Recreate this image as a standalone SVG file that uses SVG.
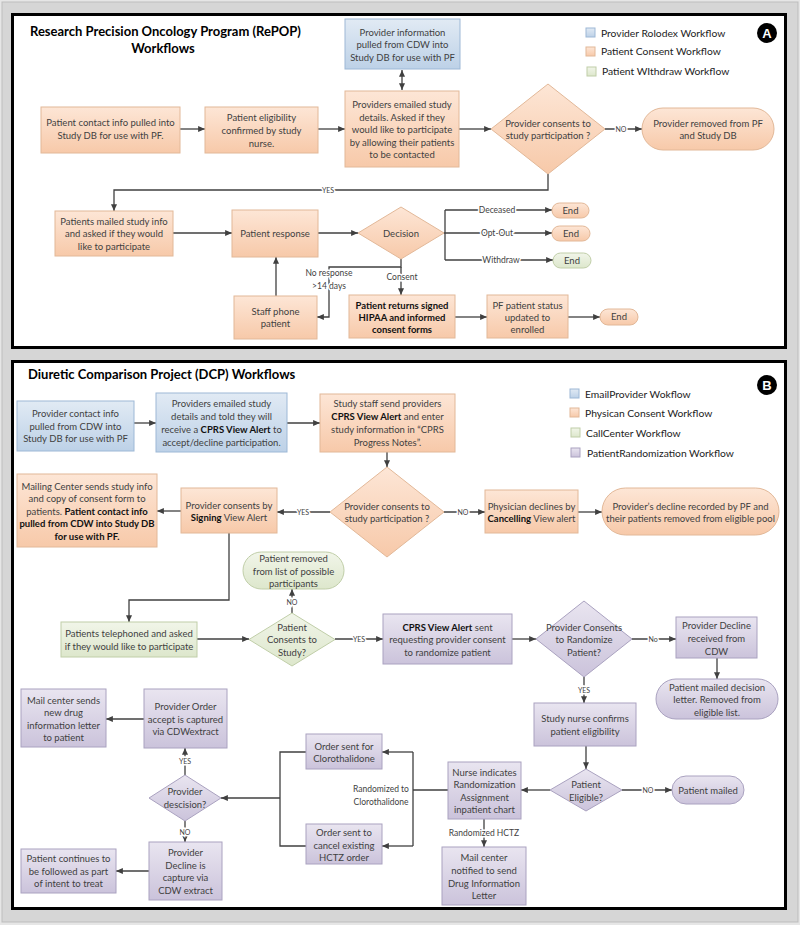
<svg xmlns="http://www.w3.org/2000/svg" width="800" height="925" viewBox="0 0 800 925">
<defs>
<linearGradient id="gPe" x1="0" y1="0" x2="0" y2="1"><stop offset="0" stop-color="#fde6d6"/><stop offset="1" stop-color="#f7c9a9"/></linearGradient>
<linearGradient id="gBl" x1="0" y1="0" x2="0" y2="1"><stop offset="0" stop-color="#e1eaf4"/><stop offset="1" stop-color="#bdd1e7"/></linearGradient>
<linearGradient id="gGr" x1="0" y1="0" x2="0" y2="1"><stop offset="0" stop-color="#f1f5e9"/><stop offset="1" stop-color="#dde7cc"/></linearGradient>
<linearGradient id="gPu" x1="0" y1="0" x2="0" y2="1"><stop offset="0" stop-color="#e9e5f0"/><stop offset="1" stop-color="#cbc3db"/></linearGradient>
<marker id="ar" viewBox="0 0 8 7" markerWidth="7" markerHeight="6" refX="8" refY="3.5" orient="auto" markerUnits="userSpaceOnUse"><path d="M0,0 L8,3.5 L0,7 z" fill="#404040"/></marker>
<marker id="as" viewBox="0 0 8 7" markerWidth="7" markerHeight="6" refX="0" refY="3.5" orient="auto" markerUnits="userSpaceOnUse"><path d="M8,0 L0,3.5 L8,7 z" fill="#404040"/></marker>
<style>
.pe{fill:url(#gPe);stroke:#e2b898;stroke-width:1}
.bl{fill:url(#gBl);stroke:#9db8d6;stroke-width:1}
.gr{fill:url(#gGr);stroke:#c0cea8;stroke-width:1}
.pu{fill:url(#gPu);stroke:#aaa2c0;stroke-width:1}
.t{font-family:Lato,"Liberation Sans",sans-serif;font-size:9.5px;fill:#3f3f3f;text-anchor:middle}
.k{font-weight:bold;fill:#111}
.lb{font-family:Lato,"Liberation Sans",sans-serif;font-size:7px;fill:#3f3f3f;text-anchor:middle;paint-order:stroke;stroke:#fff;stroke-width:3px}
.lm{font-size:8.5px}
.lg{font-family:Lato,"Liberation Sans",sans-serif;font-size:10.3px;fill:#222}
.ti{font-family:Lato,"Liberation Sans",sans-serif;font-size:13px;font-weight:bold;fill:#000}
.c{fill:none;stroke:#404040;stroke-width:1.3}
.a{marker-end:url(#ar)}
</style>
</defs>
<rect x="0" y="0" width="800" height="925" fill="#e6e6e6"/>
<rect x="2" y="2" width="796" height="920" fill="#d6d6d6" stroke="#bdbdbd" stroke-width="1"/>
<rect x="12.5" y="14.5" width="773" height="333" fill="#fff" stroke="#000" stroke-width="3"/>
<rect x="12.5" y="361.5" width="773" height="547" fill="#fff" stroke="#000" stroke-width="3"/>

<g id="titleA"><text class="ti" x="30" y="36">Research Precision Oncology Program (RePOP)</text><text class="ti" x="163" y="52.5" text-anchor="middle">Workflows</text></g>
<g id="badgeA"><circle cx="767" cy="33" r="10" fill="#000"/><text x="767" y="37.5" font-family="Liberation Sans,sans-serif" font-size="13" font-weight="bold" fill="#fff" text-anchor="middle">A</text></g>
<g id="legendA">
<rect x="586" y="28" width="9" height="9" class="bl"/><text class="lg" x="601" y="36.5">Provider Rolodex Workflow</text>
<rect x="586" y="47" width="9" height="9" class="pe"/><text class="lg" x="601" y="54.5">Patient Consent Workflow</text>
<rect x="587" y="67" width="9" height="9" class="gr"/><text class="lg" x="602" y="75">Patient WIthdraw Workflow</text>
</g>

<g id="connectorsA">
<path class="c a" d="M180,129 H205"/>
<path class="c a" d="M318,129 H345"/>
<path class="c a" d="M459,129 H491"/>
<path class="c" d="M402,70 V90" marker-start="url(#as)" marker-end="url(#ar)"/>
<path class="c a" d="M605,129 H642"/>
<text class="lb" x="621" y="131.5">NO</text>
<path class="c a" d="M548,174 V190 H114 V211"/>
<text class="lb" x="328" y="192.5">YES</text>
<path class="c a" d="M173,233 H232"/>
<path class="c a" d="M318,233 H358"/>
<path class="c" d="M445,210 V260"/>
<path class="c a" d="M445,210 H552"/>
<path class="c a" d="M444,233 H552"/>
<path class="c a" d="M445,260 H553"/>
<text class="lb lm" x="497" y="213">Deceased</text>
<text class="lb lm" x="497" y="236" fill="#111">Opt-Out</text>
<text class="lb lm" x="501" y="263">Withdraw</text>
<path class="c a" d="M401,259 V267 H329 V317 H317"/>
<text class="lb lm" x="329" y="276">No response</text>
<text class="lb lm" x="329" y="289">&gt;14 days</text>
<path class="c a" d="M401,267 V295"/>
<text class="lb lm" x="402" y="280">Consent</text>
<path class="c a" d="M276,296 V257"/>
<path class="c a" d="M455,317 H487"/>
<path class="c a" d="M568,317 H600"/>
</g>

<g id="a_contact"><rect class="pe" x="41" y="107" width="139" height="46"/><text class="t"><tspan x="110.5" y="126">Patient contact info pulled into</tspan><tspan x="110.5" y="139">Study DB for use with PF.</tspan></text></g>
<g id="a_elig"><rect class="pe" x="205" y="107" width="113" height="46"/><text class="t"><tspan x="261.5" y="120.5">Patient eligibility</tspan><tspan x="261.5" y="133.5">confirmed by study</tspan><tspan x="261.5" y="146.5">nurse.</tspan></text></g>
<g id="a_emailed"><rect class="pe" x="345" y="91" width="114" height="76"/><text class="t"><tspan x="402" y="107.5">Providers emailed study</tspan><tspan x="402" y="120.5">details.  Asked if they</tspan><tspan x="402" y="133">would like to participate</tspan><tspan x="402" y="145.5">by allowing their patients</tspan><tspan x="402" y="157.5">to be contacted</tspan></text></g>
<g id="a_provinfo"><rect class="bl" x="345" y="19" width="115" height="50"/><text class="t"><tspan x="402.5" y="35.5">Provider information</tspan><tspan x="402.5" y="47.5">pulled from CDW into</tspan><tspan x="402.5" y="60.5">Study DB for use with PF</tspan></text></g>
<g id="a_provconsent"><polygon class="pe" points="548,84 605,129 548,174 491,129"/><text class="t"><tspan x="548" y="126.5">Provider consents to</tspan><tspan x="548" y="138.5">study participation ?</tspan></text></g>
<g id="a_removed"><rect class="pe" x="642" y="108" width="132" height="42" rx="21"/><text class="t"><tspan x="708" y="126.5">Provider removed from PF</tspan><tspan x="708" y="138.5">and Study DB</tspan></text></g>
<g id="a_mailed"><rect class="pe" x="55" y="211" width="118" height="45"/><text class="t"><tspan x="114" y="224.5">Patients mailed study info</tspan><tspan x="114" y="236.5">and asked if they would</tspan><tspan x="114" y="249.5">like to participate</tspan></text></g>
<g id="a_response"><rect class="pe" x="232" y="210" width="86" height="47"/><text class="t" x="275" y="236.5">Patient response</text></g>
<g id="a_decision"><polygon class="pe" points="401,207 444,233 401,259 358,233"/><text class="t" x="401" y="236.5">Decision</text></g>
<g id="a_end1"><rect class="pe" x="552" y="203" width="37" height="15" rx="7.5"/><text class="t" x="570.5" y="213.5">End</text></g>
<g id="a_end2"><rect class="pe" x="552" y="226" width="38" height="15" rx="7.5"/><text class="t" x="571" y="236.5">End</text></g>
<g id="a_end3"><rect class="gr" x="553" y="253" width="38" height="15" rx="7.5"/><text class="t" x="572" y="263.5">End</text></g>
<g id="a_phone"><rect class="pe" x="234" y="296" width="83" height="43"/><text class="t"><tspan x="275.5" y="314.5">Staff phone</tspan><tspan x="275.5" y="326.5">patient</tspan></text></g>
<g id="a_returns"><rect class="pe" x="349" y="295" width="106" height="43"/><text class="t k"><tspan x="402" y="308.5">Patient returns signed</tspan><tspan x="402" y="320.5">HIPAA and informed</tspan><tspan x="402" y="332.5">consent forms</tspan></text></g>
<g id="a_status"><rect class="pe" x="487" y="295" width="81" height="43"/><text class="t"><tspan x="527.5" y="308.5">PF patient status</tspan><tspan x="527.5" y="320.5">updated to</tspan><tspan x="527.5" y="332.5">enrolled</tspan></text></g>
<g id="a_end4"><rect class="pe" x="600" y="309" width="38" height="16" rx="8"/><text class="t" x="619" y="320">End</text></g>

<g id="titleB"><text class="ti" x="28" y="378.5">Diuretic Comparison Project (DCP) Workflows</text></g>
<g id="badgeB"><circle cx="767" cy="385" r="10" fill="#000"/><text x="767" y="389.5" font-family="Liberation Sans,sans-serif" font-size="13" font-weight="bold" fill="#fff" text-anchor="middle">B</text></g>
<g id="legendB">
<rect x="570" y="389" width="9" height="9" class="bl"/><text class="lg" x="585" y="397.5">EmailProvider Wokflow</text>
<rect x="570" y="408" width="9" height="9" class="pe"/><text class="lg" x="585" y="416.5">Physican Consent Workflow</text>
<rect x="571" y="428" width="9" height="9" class="gr"/><text class="lg" x="586" y="436.5">CallCenter Workflow</text>
<rect x="571" y="448" width="9" height="9" class="pu"/><text class="lg" x="587" y="456.5">PatientRandomization Workflow</text>
</g>

<g id="connectorsB">
<path class="c a" d="M134,423 H156"/>
<path class="c a" d="M287,423 H320"/>
<path class="c a" d="M387,452 V467"/>
<path class="c a" d="M330,512 H277"/>
<text class="lb" x="303" y="514.5">YES</text>
<path class="c a" d="M181,511 H157"/>
<path class="c a" d="M444,512 H485"/>
<text class="lb" x="463" y="514.5">NO</text>
<path class="c a" d="M578,512 H602"/>
<path class="c a" d="M229,533 V600 H129 V622"/>
<path class="c a" d="M197,639 H249"/>
<path class="c a" d="M292,613 V589"/>
<text class="lb" x="292" y="604.5">NO</text>
<path class="c a" d="M335,639 H383"/>
<text class="lb" x="359" y="641.5">YES</text>
<path class="c a" d="M512,639 H536"/>
<path class="c a" d="M632,639 H676"/>
<text class="lb" x="653" y="641.5">No</text>
<path class="c a" d="M717,658 V679"/>
<path class="c a" d="M584,677 V703"/>
<text class="lb" x="584" y="692.5">YES</text>
<path class="c a" d="M586,746 V769"/>
<path class="c a" d="M622,790 H672"/>
<text class="lb" x="648" y="792.5">NO</text>
<path class="c a" d="M550,790 H521"/>
<path class="c a" d="M484,819 V847"/>
<text class="lb lm" x="484" y="836">Randomized HCTZ</text>
<path class="c" d="M448,790 H413 M413,752 V846"/>
<path class="c a" d="M413,752 H382"/>
<path class="c a" d="M413,846 H382"/>
<text class="lb lm" x="381" y="792">Randomized to</text>
<text class="lb lm" x="381" y="805">Clorothalidone</text>
<path class="c" d="M306,752 H280 V846 H306"/>
<path class="c a" d="M280,798 H221"/>
<path class="c a" d="M185,775 V748"/>
<text class="lb" x="185" y="763.5">YES</text>
<path class="c a" d="M144,719 H106"/>
<path class="c a" d="M185,821 V842"/>
<text class="lb" x="185" y="834.5">NO</text>
<path class="c a" d="M149,871 H116"/>
</g>

<g id="b_contact"><rect class="bl" x="17" y="401" width="117" height="50"/><text class="t"><tspan x="75.5" y="416.5">Provider contact info</tspan><tspan x="75.5" y="429.5">pulled from CDW into</tspan><tspan x="75.5" y="441.5">Study DB for use with PF</tspan></text></g>
<g id="b_emailed"><rect class="bl" x="156" y="393" width="131" height="59"/><text class="t"><tspan x="221.5" y="406.5">Providers emailed study</tspan><tspan x="221.5" y="419.5">details and told they will</tspan><tspan x="221.5" y="432.5">receive a <tspan class="k">CPRS View Alert</tspan> to</tspan><tspan x="221.5" y="445.5">accept/decline participation.</tspan></text></g>
<g id="b_staff"><rect class="pe" x="320" y="394" width="135" height="58"/><text class="t"><tspan x="387.5" y="406.5">Study staff send providers</tspan><tspan x="387.5" y="419.5"><tspan class="k">CPRS View Alert</tspan> and enter</tspan><tspan x="387.5" y="432.5">study information in “CPRS</tspan><tspan x="387.5" y="445.5">Progress Notes”.</tspan></text></g>
<g id="b_provconsent"><polygon class="pe" points="387,467 444,512 387,557 330,512"/><text class="t"><tspan x="387" y="509.5">Provider consents to</tspan><tspan x="387" y="521.5">study participation ?</tspan></text></g>
<g id="b_signing"><rect class="pe" x="181" y="488" width="96" height="45"/><text class="t"><tspan x="229" y="508.5">Provider consents by</tspan><tspan x="229" y="520.5"><tspan class="k">Signing</tspan> View Alert</tspan></text></g>
<g id="b_mailing"><rect class="pe" x="17" y="474" width="140" height="73"/><text class="t"><tspan x="87" y="489.5">Mailing Center sends study info</tspan><tspan x="87" y="501.5">and copy of consent form to</tspan><tspan x="87" y="514.5">patients.  <tspan class="k">Patient contact info</tspan></tspan><tspan x="87" y="526.5" class="k">pulled from CDW into Study DB</tspan><tspan x="87" y="539.5" class="k">for use with PF.</tspan></text></g>
<g id="b_declines"><rect class="pe" x="485" y="490" width="93" height="43"/><text class="t"><tspan x="531.5" y="509.5">Physician declines by</tspan><tspan x="531.5" y="521.5"><tspan class="k">Cancelling</tspan> View alert</tspan></text></g>
<g id="b_declinerec"><rect class="pe" x="602" y="488" width="177" height="47" rx="23.5"/><text class="t"><tspan x="690.5" y="509.5">Provider’s decline recorded by PF and</tspan><tspan x="690.5" y="521.5">their patients removed from eligible pool</tspan></text></g>
<g id="b_telephoned"><rect class="gr" x="61" y="622" width="136" height="35"/><text class="t"><tspan x="129" y="636.5">Patients telephoned and asked</tspan><tspan x="129" y="649.5">if they would like to participate</tspan></text></g>
<g id="b_patconsent"><polygon class="gr" points="292,613 335,639.5 292,666 249,639.5"/><text class="t"><tspan x="292" y="630.5">Patient</tspan><tspan x="292" y="642.5">Consents to</tspan><tspan x="292" y="655.5">Study?</tspan></text></g>
<g id="b_patremoved"><rect class="gr" x="243" y="552" width="101" height="37" rx="18.5"/><text class="t"><tspan x="293.5" y="561.5">Patient removed</tspan><tspan x="293.5" y="574.5">from list of possible</tspan><tspan x="293.5" y="586.5">participants</tspan></text></g>
<g id="b_cprsalert"><rect class="pu" x="383" y="614" width="129" height="50"/><text class="t"><tspan x="447.5" y="630.5"><tspan class="k">CPRS View Alert</tspan> sent</tspan><tspan x="447.5" y="642.5">requesting provider consent</tspan><tspan x="447.5" y="655.5">to randomize patient</tspan></text></g>
<g id="b_randconsent"><polygon class="pu" points="584,601 632,639 584,677 536,639"/><text class="t"><tspan x="584" y="630.5">Provider Consents</tspan><tspan x="584" y="642.5">to Randomize</tspan><tspan x="584" y="655.5">Patient?</tspan></text></g>
<g id="b_provdecline"><rect class="pu" x="676" y="617" width="81" height="41"/><text class="t"><tspan x="716.5" y="628.5">Provider Decline</tspan><tspan x="716.5" y="641.5">received from</tspan><tspan x="716.5" y="654.5">CDW</tspan></text></g>
<g id="b_decisionletter"><rect class="pu" x="656" y="679" width="122" height="40" rx="20"/><text class="t"><tspan x="717" y="690.5">Patient mailed decision</tspan><tspan x="717" y="702.5">letter. Removed from</tspan><tspan x="717" y="715.5">eligible list.</tspan></text></g>
<g id="b_nurseconfirm"><rect class="pu" x="534" y="703" width="102" height="43"/><text class="t"><tspan x="585" y="721.5">Study nurse confirms</tspan><tspan x="585" y="734.5">patient eligibility</tspan></text></g>
<g id="b_eligible"><polygon class="pu" points="586,769 622,790 586,811 550,790"/><text class="t"><tspan x="586" y="787.5">Patient</tspan><tspan x="586" y="800.5">Eligible?</tspan></text></g>
<g id="b_patmailed"><rect class="pu" x="672" y="776" width="72" height="28" rx="14"/><text class="t" x="708" y="793.5">Patient mailed</text></g>
<g id="b_nurseind"><rect class="pu" x="448" y="762" width="73" height="57"/><text class="t"><tspan x="484.5" y="775.5">Nurse indicates</tspan><tspan x="484.5" y="787.5">Randomization</tspan><tspan x="484.5" y="800.5">Assignment</tspan><tspan x="484.5" y="812.5">inpatient chart</tspan></text></g>
<g id="b_mailnotified"><rect class="pu" x="442" y="847" width="84" height="58"/><text class="t"><tspan x="484" y="860.5">Mail center</tspan><tspan x="484" y="873.5">notified to send</tspan><tspan x="484" y="886.5">Drug Information</tspan><tspan x="484" y="898.5">Letter</tspan></text></g>
<g id="b_orderclor"><rect class="pu" x="306" y="734" width="76" height="35"/><text class="t"><tspan x="344" y="749.5">Order sent for</tspan><tspan x="344" y="761.5">Clorothalidone</tspan></text></g>
<g id="b_ordercancel"><rect class="pu" x="306" y="824" width="76" height="40"/><text class="t"><tspan x="344" y="835.5">Order sent to</tspan><tspan x="344" y="848.5">cancel existing</tspan><tspan x="344" y="860.5">HCTZ order</tspan></text></g>
<g id="b_provdecision"><polygon class="pu" points="185,775 221,798 185,821 149,798"/><text class="t"><tspan x="185" y="794.5">Provider</tspan><tspan x="185" y="807.5">descision?</tspan></text></g>
<g id="b_orderaccept"><rect class="pu" x="144" y="689" width="83" height="59"/><text class="t"><tspan x="185.5" y="709.5">Provider Order</tspan><tspan x="185.5" y="722.5">accept is captured</tspan><tspan x="185.5" y="734.5">via CDWextract</tspan></text></g>
<g id="b_mailsends"><rect class="pu" x="21" y="689" width="85" height="58"/><text class="t"><tspan x="63.5" y="703.5">Mail center sends</tspan><tspan x="63.5" y="715.5">new drug</tspan><tspan x="63.5" y="728.5">information letter</tspan><tspan x="63.5" y="740.5">to patient</tspan></text></g>
<g id="b_declinecap"><rect class="pu" x="149" y="842" width="73" height="58"/><text class="t"><tspan x="185.5" y="855.5">Provider</tspan><tspan x="185.5" y="868.5">Decline is</tspan><tspan x="185.5" y="880.5">capture via</tspan><tspan x="185.5" y="893.5">CDW extract</tspan></text></g>
<g id="b_continues"><rect class="pu" x="21" y="849" width="95" height="44"/><text class="t"><tspan x="68.5" y="861.5">Patient continues to</tspan><tspan x="68.5" y="874.5">be followed as part</tspan><tspan x="68.5" y="886.5">of intent to treat</tspan></text></g>
</svg>
